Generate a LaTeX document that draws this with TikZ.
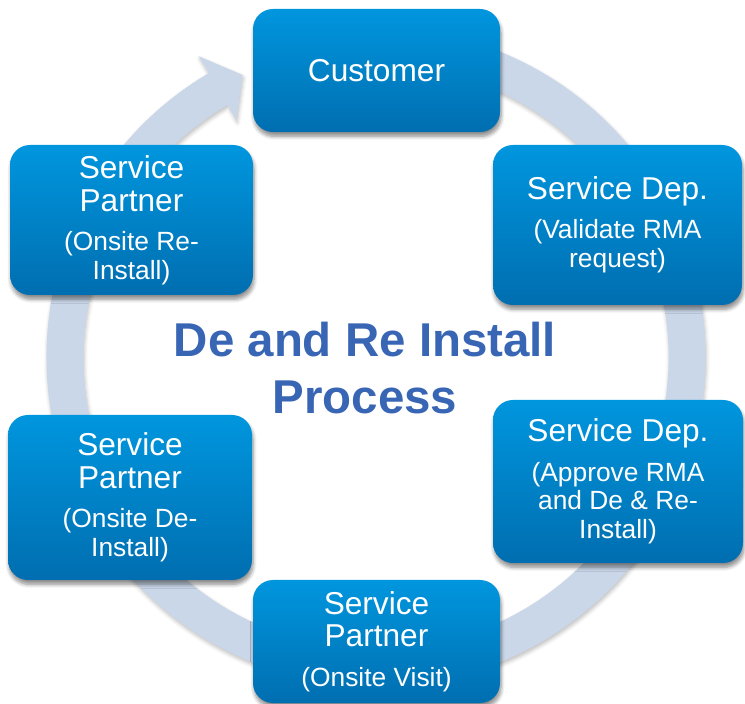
\documentclass[tikz,border=0pt]{standalone}
\usepackage{fontspec}
\setmainfont{Liberation Sans}
\usetikzlibrary{shadows.blur}
\definecolor{ringblue}{RGB}{202,215,233}
\definecolor{boxtop}{RGB}{0,150,222}
\definecolor{boxbottom}{RGB}{0,110,176}
\definecolor{titleblue}{RGB}{56,101,180}
\newcommand{\bigsize}{\fontsize{18}{18}\selectfont}
\newcommand{\smallsize}{\fontsize{15}{16.4}\selectfont}
\begin{document}
\begin{tikzpicture}[procbox/.style={rounded corners=0.4cm, top color=boxtop, bottom color=boxbottom, text=white, align=center, inner sep=2pt, font=\smallsize, blur shadow={shadow xshift=0.6pt, shadow yshift=-2.5pt, shadow blur steps=6, shadow opacity=45}}]
	\useasboundingbox (0,0) rectangle (14.9,14.06);
	\begin{scope}[shift={(7.52,6.92)}]
		\fill[ringblue, blur shadow={shadow xshift=0.5pt, shadow yshift=-1.5pt, shadow opacity=25, shadow blur steps=4}] (120.5:6.59) arc[start angle=120.5, end angle=432, radius=6.59] -- (432:5.85) arc[start angle=432, end angle=120.5, radius=5.85] -- (120.5:5.5) -- (115.3:6.24) -- (120.5:6.98) -- cycle;
	\end{scope}
	\node[procbox, minimum width=4.94cm, minimum height=2.46cm] (customer) at (7.53,12.65) {\bigsize Customer};
	\node[procbox, minimum width=4.98cm, minimum height=3.2cm] (validate) at (12.35,9.56) {\bigsize Service Dep.\\[6pt](Validate RMA\\request)};
	\node[procbox, minimum width=5cm, minimum height=3.26cm] (approve) at (12.36,4.43) {\bigsize Service Dep.\\[6pt](Approve RMA\\and De \& Re-\\Install)};
	\node[procbox, minimum width=4.94cm, minimum height=2.46cm] (visit) at (7.53,1.23) {\bigsize Service\\[2.3pt]\bigsize Partner\\[6pt](Onsite Visit)};
	\node[procbox, minimum width=4.88cm, minimum height=3.3cm] (deinstall) at (2.6,4.11) {\bigsize Service\\[2.3pt]\bigsize Partner\\[6pt](Onsite De-\\Install)};
	\node[procbox, minimum width=4.86cm, minimum height=3cm] (reinstall) at (2.63,9.66) {\bigsize Service\\[2.3pt]\bigsize Partner\\[6pt](Onsite Re-\\Install)};
	\node[text=titleblue, align=center, font=\bfseries\fontsize{27}{32.3}\selectfont] (title) at (7.3,6.7) {De and Re Install\\Process};
\end{tikzpicture}
\end{document}
